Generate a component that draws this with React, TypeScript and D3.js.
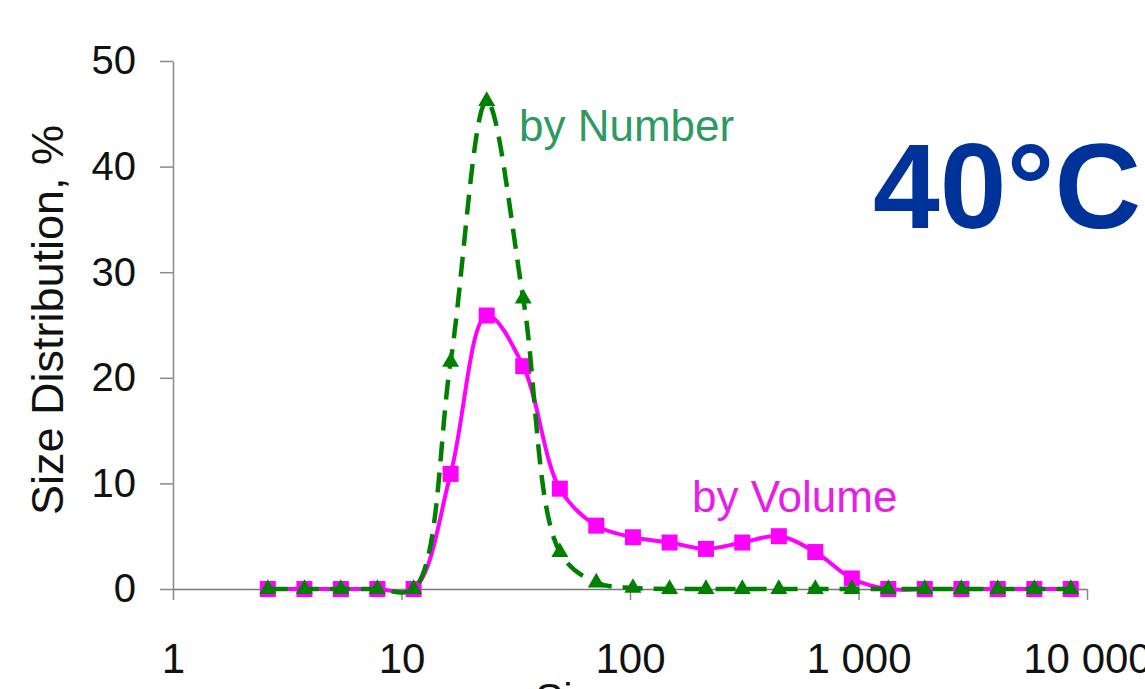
import { useEffect, useRef } from "react";
import * as d3 from "d3";

// particle size bins, nm
const sizes = [
  2.6, 3.76, 5.43, 7.84, 11.3, 16.4, 23.6, 34.1, 49.3, 71.2, 103, 149, 215,
  310, 448, 647, 935, 1350, 1950, 2820, 4070, 5880, 8490,
];
const byVolume = [
  0, 0, 0, 0, 0, 10.9, 25.9, 21.1, 9.5, 6.0, 4.9, 4.4, 3.8, 4.4, 5.0, 3.5, 1.0,
  0, 0, 0, 0, 0, 0,
];
const byNumber = [
  0, 0, 0, 0, 0, 21.5, 46.2, 27.5, 3.5, 0.6, 0.1, 0, 0, 0, 0, 0, 0, 0, 0, 0, 0,
  0, 0,
];
const xTicks = [1, 10, 100, 1000, 10000];
const xTickLabels = ["1", "10", "100", "1 000", "10 000"];
const yTicks = [0, 10, 20, 30, 40, 50];

const FONT = "'Liberation Sans', Arial, sans-serif";

export default function App() {
  const svgRef = useRef<SVGSVGElement>(null);

  useEffect(() => {
    if (!svgRef.current) return;
    const svg = d3.select(svgRef.current);
    svg.selectAll("*").remove();

    const x = d3.scaleLog().domain([1, 10000]).range([173, 1087]);
    const y = d3.scaleLinear().domain([0, 50]).range([589, 61]);

    // Y axis
    const yAxis = svg
      .append("g")
      .attr("transform", `translate(${x(1)},0)`)
      .call(
        d3.axisLeft(y).tickValues(yTicks).tickSize(13).tickSizeOuter(0).tickPadding(24)
      );
    yAxis.select(".domain").attr("stroke", "#8a8a8a").attr("stroke-width", 1.5);
    yAxis.selectAll(".tick line").attr("stroke", "#8a8a8a").attr("stroke-width", 1.5);
    yAxis
      .selectAll("text")
      .style("font-family", FONT)
      .style("font-size", "40px")
      .style("fill", "#111");

    // X axis
    const xAxis = svg
      .append("g")
      .attr("transform", `translate(0,${y(0)})`)
      .call(
        d3
          .axisBottom(x)
          .tickValues(xTicks)
          .tickFormat((_d, i) => xTickLabels[i])
          .tickSize(11)
          .tickSizeOuter(0)
          .tickPadding(43)
      );
    xAxis.select(".domain").attr("stroke", "#777").attr("stroke-width", 1.5);
    xAxis.selectAll(".tick line").attr("stroke", "#8a8a8a").attr("stroke-width", 1.5);
    xAxis
      .selectAll("text")
      .style("font-family", FONT)
      .style("font-size", "42px")
      .style("fill", "#111");

    // Axis titles
    svg
      .append("text")
      .attr("transform", `translate(63,320) rotate(-90)`)
      .attr("text-anchor", "middle")
      .style("font-family", FONT)
      .style("font-size", "45px")
      .style("fill", "#111")
      .text("Size Distribution, %");

    svg
      .append("text")
      .attr("x", 617)
      .attr("y", 713)
      .attr("text-anchor", "middle")
      .style("font-family", FONT)
      .style("font-size", "42px")
      .style("fill", "#111")
      .text("Size, nm");

    const line = (vals: number[]) =>
      d3
        .line<number>()
        .x((_d, i) => x(sizes[i]))
        .y((d) => y(d))
        .curve(d3.curveCatmullRom.alpha(0.5))(vals);

    // By volume
    svg
      .append("path")
      .attr("d", line(byVolume))
      .attr("fill", "none")
      .attr("stroke", "#ff00ff")
      .attr("stroke-width", 4);

    svg
      .selectAll(".vol")
      .data(byVolume)
      .enter()
      .append("rect")
      .attr("x", (_d, i) => x(sizes[i]) - 8)
      .attr("y", (d) => y(d) - 8)
      .attr("width", 16)
      .attr("height", 16)
      .attr("fill", "#ff00ff");

    // By number
    svg
      .append("path")
      .attr("d", line(byNumber))
      .attr("fill", "none")
      .attr("stroke", "#008000")
      .attr("stroke-width", 4.5)
      .attr("stroke-dasharray", "20,11");

    svg
      .selectAll(".num")
      .data(byNumber)
      .enter()
      .append("path")
      .attr("d", d3.symbol().type(d3.symbolTriangle).size(125)())
      .attr("transform", (d, i) => `translate(${x(sizes[i])},${y(d)})`)
      .attr("fill", "#008000");

    // Series labels
    svg
      .append("text")
      .attr("x", 519)
      .attr("y", 141)
      .style("font-family", FONT)
      .style("font-size", "44px")
      .style("fill", "#2e9a62")
      .text("by Number");

    svg
      .append("text")
      .attr("x", 692)
      .attr("y", 512)
      .style("font-family", FONT)
      .style("font-size", "44px")
      .style("fill", "#e61ee6")
      .text("by Volume");

    svg
      .append("text")
      .attr("x", 873)
      .attr("y", 228)
      .style("font-family", FONT)
      .style("font-size", "120px")
      .style("font-weight", "bold")
      .style("fill", "#003399")
      .text("40°C");
  }, []);

  return (
    <svg
      ref={svgRef}
      width={1145}
      height={689}
      style={{ position: "absolute", left: 0, top: 0, background: "#fff" }}
    />
  );
}
